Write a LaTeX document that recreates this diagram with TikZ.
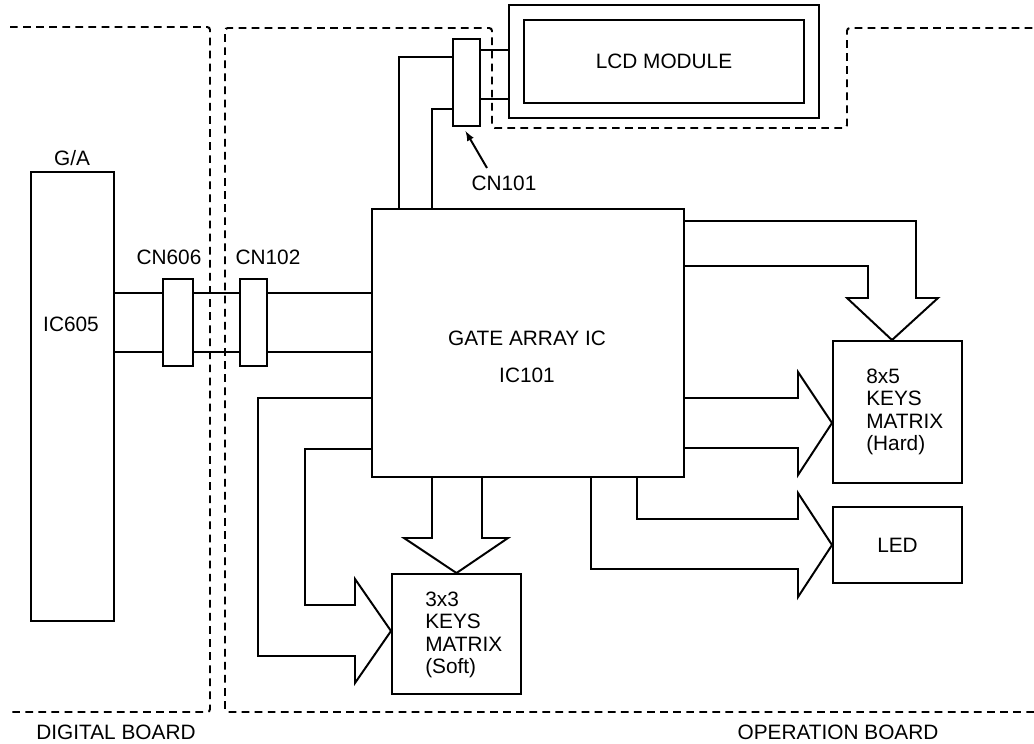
\documentclass[tikz,border=0pt]{standalone}
\usepackage{fontspec}
\setmainfont{Liberation Sans}
\usetikzlibrary{arrows}

\begin{document}
\begin{tikzpicture}[x=0.025cm, y=-0.025cm, font=\fontsize{14.8}{16}\selectfont,
  blk/.style 2 args={draw, line width=1.4pt, minimum width=#1*0.025cm, minimum height=#2*0.025cm, inner sep=0pt},
  bus/.style={line width=1.4pt},
  board/.style={line width=1.4pt, dash pattern=on 5.5pt off 3.8pt, rounded corners=2pt}]
  \useasboundingbox (0,0) rectangle (1034,744);

  \draw[board] (10,27) -- (210,27) -- (210,712) -- (10,712);
  \draw[board] (1034,712) -- (225,712) -- (225,28) -- (492,28) -- (492,128) -- (847,128) -- (847,28) -- (1034,28);
  \node (digbrd) at (116,732) {DIGITAL BOARD};
  \node (opbrd) at (838,732) {OPERATION BOARD};

  \node[blk={83}{449}] (ic605) at (72.5,396.5) {};
  \node (ga) at (72,158) {G/A};
  \node (ic605txt) at (71,324) {IC605};
  \node[blk={30}{87}] (cn606) at (178,322.5) {};
  \node[blk={27}{87}] (cn102) at (253.5,322.5) {};
  \node (cn606txt) at (169,257) {CN606};
  \node (cn102txt) at (268,257) {CN102};

  \node[blk={312}{268}] (ic101) at (528,343) {};
  \node (gatxt) at (527,338) {GATE ARRAY IC};
  \node (ic101txt) at (527,375) {IC101};

  \node[blk={27}{87}] (cn101) at (466.5,82.5) {};
  \node (cn101txt) at (504,183) {CN101};
  \coordinate (cn101tail) at (487,168);
  \node[blk={310}{113}] (lcdout) at (664,61.5) {};
  \node[blk={280}{83}] (lcd) at (664,61.5) {LCD MODULE};

  \node[blk={129}{142}] (keyh) at (897.5,412) {};
  \node[anchor=west, align=left, inner sep=0pt] (keyhtxt) at (866,412) {8x5\\KEYS\\MATRIX\\(Hard)};
  \node[blk={129}{76}] (led) at (897.5,545) {LED};
  \node[blk={129}{120}] (keys) at (456.5,634) {};
  \node[anchor=west, align=left, inner sep=0pt] (keystxt) at (425,635) {3x3\\KEYS\\MATRIX\\(Soft)};

  \foreach \y in {293,352} {
    \draw[bus] (ic605.east |- 0,\y) -- (cn606.west |- 0,\y);
    \draw[bus] (cn606.east |- 0,\y) -- (cn102.west |- 0,\y);
    \draw[bus] (cn102.east |- 0,\y) -- (ic101.west |- 0,\y);
  }
  \foreach \y in {50,99}
    \draw[bus] (cn101.east |- 0,\y) -- (lcdout.west |- 0,\y);
  \draw[bus] (cn101.west |- 0,57) -| (ic101.north -| 399,0);
  \draw[bus] (cn101.west |- 0,109) -| (ic101.north -| 432,0);
  \draw[bus, -latex] (cn101tail) -- ([shift={(-1,4)}]cn101.south);

  \draw[bus] (ic101.east |- 0,221) -| (916,298) -- (938,298) -- (keyh.north -| 892,0) -- (847,298) -- (868,298) |- (ic101.east |- 0,266);
  \draw[bus] (ic101.east |- 0,398) -- (798,398) -- (798,372) -- (keyh.west |- 0,423) -- (798,475) -- (798,448) -- (ic101.east |- 0,448);
  \draw[bus] (ic101.south -| 637,0) |- (798,519) -- (798,493) -- (led.west) -- (798,597) -- (798,569) -| (ic101.south -| 591,0);
  \draw[bus] (ic101.south -| 432,0) -- (432,538) -- (404,538) -- (keys.north) -- (508,538) -- (482,538) -- (ic101.south -| 482,0);
  \draw[bus] (ic101.west |- 0,398) -| (258,656) -- (355,656) -- (355,683) -- (keys.west |- 0,631) -- (355,579) -- (355,605) -| (305,449) -- (ic101.west |- 0,449);
\end{tikzpicture}
\end{document}
